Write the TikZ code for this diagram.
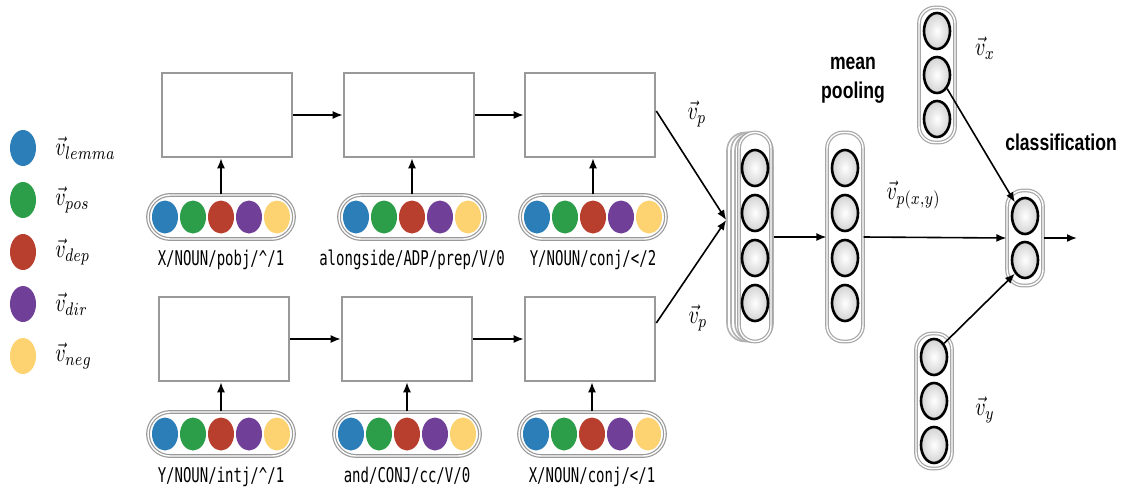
\documentclass[tikz,border=0pt]{standalone}
\usepackage{amsmath, amssymb}
\usepackage{graphicx}
\usepackage{fontspec}
\newfontfamily\wordfont{DejaVu Sans Mono}
\newfontfamily\headfont{Liberation Sans}
\usepackage{tikz}
\usetikzlibrary{positioning, shapes.geometric, arrows.meta}

\definecolor{clemma}{RGB}{44,126,184}
\definecolor{cpos}{RGB}{44,157,72}
\definecolor{cdep}{RGB}{184,62,46}
\definecolor{cdir}{RGB}{112,64,152}
\definecolor{cneg}{RGB}{253,210,112}

% the picture is a bit taller than wide, so is its text
\newcommand{\tallbox}[1]{\scalebox{1}[1.3]{#1}}

\tikzset{
	lstmbox/.style={draw=gray!80, line width=1.3pt, minimum width=65pt, minimum height=42pt, inner sep=0},
	wordpill/.style={rectangle, rounded corners=11pt, draw=gray!80, line width=0.6pt, double=white, double distance=0.7pt, minimum width=73pt, minimum height=22pt, inner sep=0},
	dot/.style={ellipse, minimum width=13pt, minimum height=16.5pt, inner sep=0},
	wordlbl/.style={font=\wordfont\fontsize{7}{9}\selectfont, inner sep=0},
	layer/.style={rectangle, rounded corners=8pt, draw=gray!70, line width=0.6pt, double=white, double distance=0.7pt, minimum width=18pt, inner sep=0},
	backlayer/.style={rectangle, rounded corners=9pt, draw=gray!60, line width=0.8pt, inner sep=0},
	neuron/.style={ellipse, draw=black, line width=1.3pt, minimum width=13pt, minimum height=18pt, inner sep=0, inner color=white, outer color=gray!35},
	mathlbl/.style={inner sep=0},
	headlbl/.style={font=\headfont\bfseries\fontsize{8.8}{11.5}\selectfont, inner sep=0},
	arr/.style={-{Latex[length=5pt, width=4pt]}, line width=0.8pt}
}

% one word: pill with five coloured dots and the word below
\newcommand{\wordvec}[4]{%
	\node[wordpill] (#1) at (#2,#3) {};
	\foreach \c [count=\i] in {clemma,cpos,cdep,cdir,cneg}
		\node[dot, fill=\c, xshift={(\i-3)*14pt}] (#1-\i) at (#1) {};
	\node[wordlbl, below=5pt of #1] (#1-lbl) {\scalebox{1}[1.45]{#4}};
}

\begin{document}
\begin{tikzpicture}[x=0.5pt, y=-0.5pt]
	\useasboundingbox (0,0) rectangle (1129,493);
	
	% legend
	\foreach \c/\s [count=\i] in {clemma/lemma, cpos/pos, cdep/dep, cdir/dir, cneg/neg}{
		\node[dot, fill=\c, minimum width=13pt, minimum height=18pt] (leg\i) at (23,{96+\i*52}) {};
		\node[mathlbl, anchor=west] (leg\i-lbl) at (55,{96+\i*52}) {\tallbox{$\vec{v}_{\s}$}};
	}
	
	% lstm boxes
	\node[lstmbox] (t1) at (227,115) {};
	\node[lstmbox] (t2) at (409,115) {};
	\node[lstmbox] (t3) at (590,115) {};
	\node[lstmbox] (b1) at (224,339) {};
	\node[lstmbox] (b2) at (407,339) {};
	\node[lstmbox] (b3) at (590,339) {};
	
	% words of the two paths
	\wordvec{tw1}{221}{217}{X/NOUN/pobj/\textasciicircum/1}
	\wordvec{tw2}{412}{217}{alongside/ADP/prep/V/0}
	\wordvec{tw3}{593}{217}{Y/NOUN/conj/</2}
	\wordvec{bw1}{221}{434}{Y/NOUN/intj/\textasciicircum/1}
	\wordvec{bw2}{407}{434}{and/CONJ/cc/V/0}
	\wordvec{bw3}{592}{434}{X/NOUN/conj/</1}
	
	\foreach \r in {t,b}{
		\draw[arr] (\r1) -- (\r2);
		\draw[arr] (\r2) -- (\r3);
		\foreach \i in {1,2,3}
			\draw[arr] (\r w\i.north) -- (\r w\i.north |- \r\i.south);
	}
	
	% stacked paths
	\node[backlayer, minimum width=23pt, minimum height=104.5pt] (stack1) at (750,237) {};
	\node[backlayer, minimum width=20.5pt, minimum height=104.5pt] (stack2) at (751.5,237) {};
	\node[backlayer, minimum width=18pt, minimum height=104.5pt] (stack3) at (753,237) {};
	\node[layer, minimum width=16pt, minimum height=104.5pt] (stack) at (755,237) {};
	\foreach \i/\y in {1/168,2/213,3/258,4/303}
		\node[neuron] (s\i) at (755,\y) {};
	
	\coordinate (merge) at ([yshift=8.5pt]stack1.west);
	\draw[arr] ([yshift=2pt]t3.east) -- (merge);
	\draw[arr] ([yshift=8pt]b3.east) -- (merge);
	\node[mathlbl] (vp1) at (697,114) {\tallbox{$\vec{v}_p$}};
	\node[mathlbl] (vp2) at (698,318) {\tallbox{$\vec{v}_p$}};
	
	% mean pooling
	\node[layer, minimum height=104.5pt] (mean) at (845,237) {};
	\foreach \i/\y in {1/168,2/213,3/258,4/303}
		\node[neuron] (m\i) at (845,\y) {};
	\node[headlbl] (mean-lbl) at (853,78) {\tallbox{\begin{tabular}{@{}c@{}}mean\\pooling\end{tabular}}};
	\draw[arr] (stack1.east |- stack.center) -- (mean.west);
	
	% word vectors of x and y
	\node[layer, minimum height=67.5pt] (vx) at (937,75) {};
	\foreach \i/\y in {1/31,2/75,3/119}
		\node[neuron] (vx\i) at (937,\y) {};
	\node[mathlbl] (vx-lbl) at (985,48) {\tallbox{$\vec{v}_x$}};
	\node[layer, minimum height=67.5pt] (vy) at (934,401) {};
	\foreach \i/\y in {1/357,2/401,3/445}
		\node[neuron] (vy\i) at (934,\y) {};
	\node[mathlbl] (vy-lbl) at (985,410) {\tallbox{$\vec{v}_y$}};
	
	% classification
	\node[layer, minimum height=47.5pt] (cls) at (1025,238) {};
	\foreach \i/\y in {1/216,2/260}
		\node[neuron] (c\i) at (1025,\y) {};
	\node[headlbl] (cls-lbl) at (1061,142) {\tallbox{classification}};
	\coordinate (out) at (1077,238);
	
	\draw[arr] (mean.east) -- node[mathlbl, above=14pt, pos=0.35] (vpxy) {\tallbox{$\vec{v}_{p(x,y)}$}} (cls.west);
	\draw[arr] (vx2.south east) -- (c1.north west);
	\draw[arr] (vy1.north east) -- (c2.south west);
	\draw[arr] (cls.east) -- (out);
	
\end{tikzpicture}
\end{document}
